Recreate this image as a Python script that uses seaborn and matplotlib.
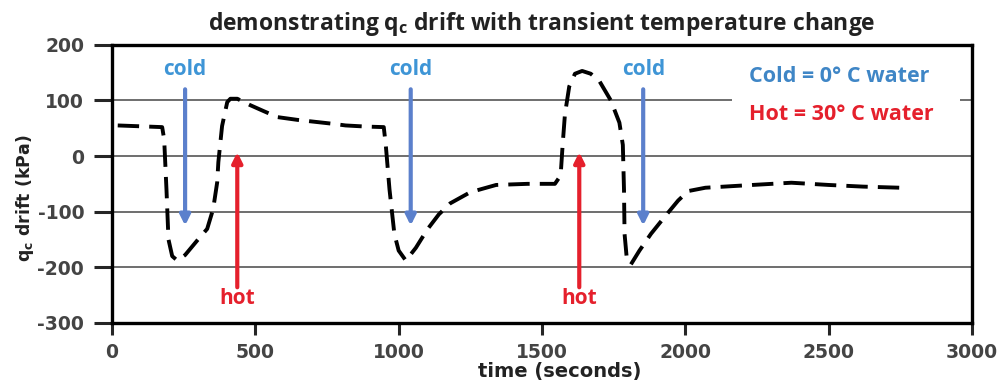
import matplotlib
matplotlib.use("Agg")
import matplotlib.pyplot as plt
import matplotlib.patches as mpatches
import seaborn as sns
import pandas as pd

# ---- data ----
time_s = [20, 175, 182, 190, 197, 210, 228, 255, 297, 332, 353, 367, 371, 384, 402, 413,
          437, 480, 528, 577, 647, 700, 770, 815, 885, 948,
          955, 968, 985, 1000, 1025, 1060, 1100, 1140, 1180, 1250, 1340, 1450, 1545,
          1565, 1572, 1580, 1595, 1615, 1640, 1670, 1700, 1740, 1770, 1782,
          1786, 1788, 1795, 1810, 1840, 1880, 1930, 1975, 2010, 2070, 2200,
          2370, 2500, 2620, 2750]
qc_drift_kpa = [55, 52, 30, -60, -150, -180, -188, -178, -152, -131, -95, -47, -11, 54, 97, 103,
                103, 92, 81, 70, 65, 62, 58, 55, 53, 52,
                20, -60, -140, -170, -188, -165, -132, -105, -85, -65, -52, -50, -50,
                -35, 20, 75, 125, 148, 153, 148, 135, 100, 60, 20,
                -60, -140, -180, -195, -170, -140, -108, -80, -63, -57, -53,
                -48, -52, -55, -57]

cold_times = [255, 1042, 1853]
hot_times = [437, 1630]
cold_arrow_y = (120, -125)
hot_arrow_y = (-236, 7)
cold_label_y = 155
hot_label_y = -257

title = "demonstrating q$_\\mathregular{c}$ drift with transient temperature change"
xlabel = "time (seconds)"
ylabel = "q$_\\mathregular{c}$ drift (kPa)"
legend_cold = "Cold = 0° C water"
legend_hot = "Hot = 30° C water"
xticks = [0, 500, 1000, 1500, 2000, 2500, 3000]
yticks = [-300, -200, -100, 0, 100, 200]
grid_levels = [-200, -100, 0, 100]

# ---- styling ----
sns.set_style("white")
plt.rcParams['font.family'] = ['DejaVu Sans']
plt.rcParams['axes.unicode_minus'] = False

COLD_ARROW = '#5b80cc'
COLD_TEXT = '#3e95d6'
LEG_COLD = '#3f86c6'
HOT = '#e5202c'
ANNOT_FONT = 'Open Sans'

fig = plt.figure(figsize=(10, 3.83), dpi=100)
ax = fig.add_axes([0.112, 0.157, 0.860, 0.726])

df = pd.DataFrame({"time": time_s, "drift": qc_drift_kpa})

for g in grid_levels:
    ax.axhline(g, color='#555555', lw=1.2, zorder=1)

sns.lineplot(data=df, x="time", y="drift", ax=ax, color='black', lw=2.8,
             sort=False, zorder=3)
ax.lines[-1].set_dashes((5.5, 2.6))

# arrows
for t in cold_times:
    ax.annotate("", xy=(t, cold_arrow_y[1]), xytext=(t, cold_arrow_y[0]),
                arrowprops=dict(arrowstyle='-|>,head_length=0.6,head_width=0.3',
                                color=COLD_ARROW, lw=3, shrinkA=0, shrinkB=0), zorder=4)
    ax.text(t, cold_label_y, "cold", color=COLD_TEXT, ha='center', va='center',
            fontsize=15, fontweight='bold', family=ANNOT_FONT, zorder=5)
for t in hot_times:
    ax.annotate("", xy=(t, hot_arrow_y[1]), xytext=(t, hot_arrow_y[0]),
                arrowprops=dict(arrowstyle='-|>,head_length=0.6,head_width=0.3',
                                color=HOT, lw=3, shrinkA=0, shrinkB=0), zorder=4)
    ax.text(t, hot_label_y, "hot", color=HOT, ha='center', va='center',
            fontsize=15, fontweight='bold', family=ANNOT_FONT, zorder=5)

# legend-like texts with white background
ax.add_patch(mpatches.Rectangle((0.721, 0.62), 0.265, 0.36, transform=ax.transAxes,
                                facecolor='white', edgecolor='none', zorder=2))
ax.text(0.741, 0.885, legend_cold, transform=ax.transAxes, color=LEG_COLD,
        ha='left', va='center', fontsize=15.5, fontweight='bold', family=ANNOT_FONT, zorder=5)
ax.text(0.741, 0.75, legend_hot, transform=ax.transAxes, color=HOT,
        ha='left', va='center', fontsize=15.5, fontweight='bold', family=ANNOT_FONT, zorder=5)

ax.set_xlim(0, 3000)
ax.set_ylim(-300, 200)
ax.set_xticks(xticks)
ax.set_yticks(yticks)
ax.tick_params(axis='x', direction='out', length=8.5, width=2.2, pad=6,
               labelsize=13.5, labelcolor='#444444', bottom=True)
ax.tick_params(axis='y', direction='out', length=13, width=2.2, pad=7,
               labelsize=13.5, labelcolor='#444444', left=True)
for lab in ax.get_xticklabels() + ax.get_yticklabels():
    lab.set_fontweight('bold')

for sp in ax.spines.values():
    sp.set_visible(True)
    sp.set_color('black')
    sp.set_linewidth(2.4)
    sp.set_zorder(6)

ax.set_xlabel(xlabel, fontsize=14, fontweight='bold', color='#222222', va='center')
ax.xaxis.set_label_coords(0.52, -0.176)
ax.set_ylabel(ylabel, fontsize=12.5, fontweight='bold', color='#222222', va='center')
ax.yaxis.set_label_coords(-0.101, 0.45)
ax.set_title(title, fontsize=16.5, fontweight='bold', family=ANNOT_FONT, color='#222222',
             pad=11)

fig.savefig("out.png", dpi=100)
